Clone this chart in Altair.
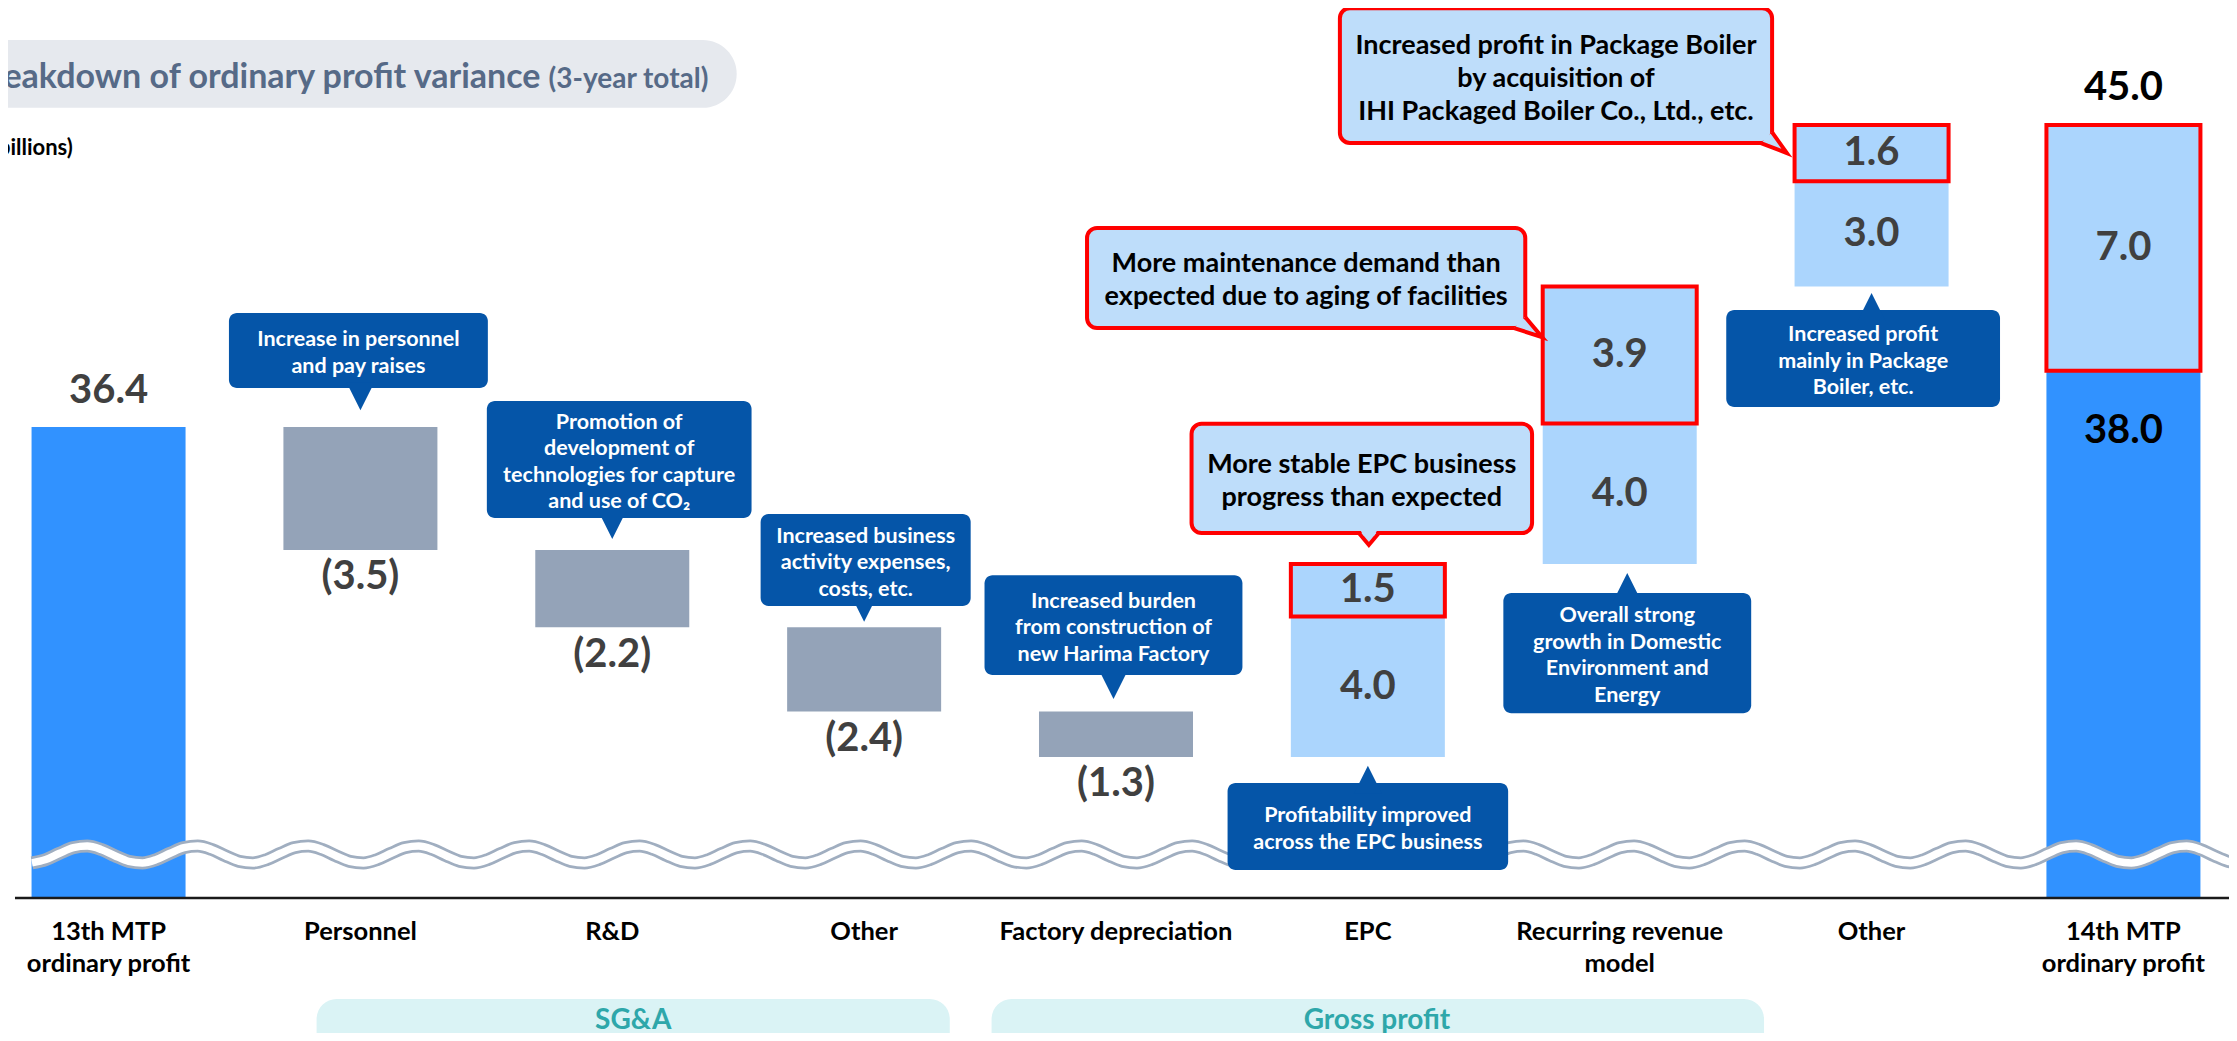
import math
import altair as alt
import pandas as pd

# ------------------------------------------------------------------ data
categories = ["13th MTP\nordinary profit", "Personnel", "R&D", "Other",
              "Factory depreciation", "EPC", "Recurring revenue\nmodel", "Other",
              "14th MTP\nordinary profit"]
start_total = 36.4
decreases = [3.5, 2.2, 2.4, 1.3]          # Personnel, R&D, Other, Factory depreciation
increase_base = [4.0, 4.0, 3.0]           # EPC, Recurring revenue model, Other
increase_extra = [1.5, 3.9, 1.6]          # red-framed upside
end_base = 38.0
end_extra = 7.0
end_total = 45.0
group_labels = ["SG&A", "Gross profit"]
title_main = "Breakdown of ordinary profit variance"
title_sub = "(3-year total)"
unit_label = "(¥ billions)"
blue_texts = [
    "Increase in personnel\nand pay raises",
    "Promotion of\ndevelopment of\ntechnologies for capture\nand use of CO₂",
    "Increased business\nactivity expenses,\ncosts, etc.",
    "Increased burden\nfrom construction of\nnew Harima Factory",
    "Profitability improved\nacross the EPC business",
    "Overall strong\ngrowth in Domestic\nEnvironment and\nEnergy",
    "Increased profit\nmainly in Package\nBoiler, etc.",
]
red_texts = [
    "More stable EPC business\nprogress than expected",
    "More maintenance demand than\nexpected due to aging of facilities",
    "Increased profit in Package Boiler\nby acquisition of\nIHI Packaged Boiler Co., Ltd., etc.",
]

# ------------------------------------------------------------------ layout (plot units)
XD = [-0.3794, 8.3993]
YD = [19.14, 48.334]
W, H = 2221, 1025
PX_PER_UNIT = H / (YD[1] - YD[0])
AXIS_BREAK = 22.985
FONT = "Lato"
BLUE_BAR = "#3192FF"
GRAY_BAR = "#94A3B8"
LIGHT_BAR = "#ABD5FD"
NOTE_BLUE = "#0555A8"
NOTE_LIGHT = "#BEDDFA"
RED = "#FF0000"
VAL = "#404040"
BLUE_FS, BLUE_LH = 21.5, 26.5
RED_FS, RED_LH = 27, 33

# box: x0, x1, ytop, ybottom, tip x, tip y, direction
blue_boxes = [
    (0.478, 1.506, 39.65, 37.51, 1.0, 36.88, "down"),
    (1.502, 2.553, 37.14, 33.81, 2.0, 33.21, "down"),
    (2.589, 3.423, 33.92, 31.30, 3.0, 30.85, "down"),
    (3.478, 4.502, 32.18, 29.34, 3.99, 28.65, "down"),
    (4.443, 5.557, 26.26, 23.78, 5.0, 26.75, "up"),
    (5.538, 6.522, 31.67, 28.25, 6.03, 32.24, "up"),
    (6.423, 7.510, 39.73, 36.97, 7.0, 40.22, "up"),
]
red_boxes = [
    (4.300, 5.652, 36.49, 33.38, 5.004, 33.04,
     "M -1 -1.2 L 0 0 L 1 -1.2",
     "M -0.55 -0.95 L 0.55 -0.95 L 0.85 -1.5 L -0.85 -1.5 Z"),
    (3.885, 5.625, 42.07, 39.22, 5.692, 38.96,
     "M -2.8 -0.9 L 0 0 L -1.7 -2.0",
     "M -2.0 -1.0 L -1.5 -0.9 L -1.6 -1.4 Z"),
    (4.889, 6.605, 48.33, 44.49, 6.664, 44.20,
     "M -2.6 -1.0 L 0 0 L -1.5 -2.1",
     "M -1.9 -1.0 L -1.3 -0.9 L -1.4 -1.5 Z"),
]


def X(f):
    return alt.X(f, type="quantitative", axis=None,
                 scale=alt.Scale(domain=XD, nice=False, zero=False))


def Y(f):
    return alt.Y(f, type="quantitative", axis=None,
                 scale=alt.Scale(domain=YD, nice=False, zero=False))


def first_line_y(center, text, lh):
    n = text.count("\n") + 1
    return center + (n - 1) / 2 * lh / PX_PER_UNIT


# ------------------------------------------------------------------ bars
seg = [(0, AXIS_BREAK, start_total, "total")]
labels = [(0, start_total + 1.02, f"{start_total:.1f}", VAL)]
level = start_total
for k, d in enumerate(decreases):
    seg.append((k + 1, level, level - d, "down"))
    level -= d
    labels.append((k + 1, level - 0.78, f"({d:.1f})", VAL))
for k, (b, e) in enumerate(zip(increase_base, increase_extra)):
    i = 5 + k
    seg.append((i, level, level + b, "up"))
    seg.append((i, level + b, level + b + e, "extra"))
    labels.append((i, level + b / 2, f"{b:.1f}", VAL))
    labels.append((i, level + b + e / 2, f"{e:.1f}", VAL))
    level += b + e
seg.append((8, AXIS_BREAK, end_base, "total"))
seg.append((8, end_base, end_base + end_extra, "extra"))
labels.append((8, end_base - 1.71, f"{end_base:.1f}", "#000000"))
labels.append((8, end_base + end_extra / 2, f"{end_extra:.1f}", VAL))
labels.append((8, end_total + 1.06, f"{end_total:.1f}", "#000000"))

bars = pd.DataFrame(seg, columns=["i", "y0", "y1", "kind"])
lab_df = pd.DataFrame(labels, columns=["i", "y", "text", "color"])


def bar_layer(kind, **style):
    return (alt.Chart(bars).transform_filter(alt.datum.kind == kind)
            .mark_bar(width=154, **style)
            .encode(x=X("i"), y=Y("y0"), y2=alt.Y2("y1")))


layers = [
    bar_layer("total", color=BLUE_BAR),
    bar_layer("down", color=GRAY_BAR),
    bar_layer("up", color=LIGHT_BAR),
    bar_layer("extra", color=LIGHT_BAR, stroke=RED, strokeWidth=4),
]

# ------------------------------------------------------------------ axis break wave
period = 0.4387
peak0 = -0.0949
wave_rows = []
n_steps = int((8.46 + 0.304) / (period / 8)) + 1
for s in range(n_steps + 1):
    xv = -0.304 + s * period / 8
    wave_rows.append((xv, 24.224 + 0.242 * math.cos(2 * math.pi * (xv - peak0) / period)))
wave = pd.DataFrame(wave_rows, columns=["x", "y"])
layers.append(alt.Chart(wave).mark_line(color="#A0AEC0", strokeWidth=13, strokeCap="butt",
                                        interpolate="monotone")
              .encode(x=X("x"), y=Y("y"), order="x:Q"))
layers.append(alt.Chart(wave).mark_line(color="#FFFFFF", strokeWidth=7.5, strokeCap="butt",
                                        interpolate="monotone")
              .encode(x=X("x"), y=Y("y"), order="x:Q"))

# baseline
base_df = pd.DataFrame({"x": [-0.3715], "x2": [8.45], "y": [AXIS_BREAK]})
layers.append(alt.Chart(base_df).mark_rule(color="#1A1A1A", strokeWidth=2.5)
              .encode(x=X("x"), x2=alt.X2("x2"), y=Y("y")))

# ------------------------------------------------------------------ value + category labels
layers.append(alt.Chart(lab_df).mark_text(font=FONT, fontSize=40, fontWeight="bold",
                                          baseline="middle", align="center")
              .encode(x=X("i"), y=Y("y"), text="text:N", color=alt.Color("color:N", scale=None)))

cat_df = pd.DataFrame({"i": list(range(len(categories))), "text": categories, "y": 22.36})
layers.append(alt.Chart(cat_df).mark_text(font=FONT, fontSize=25.5, fontWeight="bold", color="#000000",
                                          baseline="top", align="center", lineBreak="\n",
                                          lineHeight=32)
              .encode(x=X("i"), y=Y("y"), text="text:N"))

# ------------------------------------------------------------------ title + unit
pill = pd.DataFrame({"x0": [-1.5], "x1": [2.494], "y0": [47.42], "y1": [45.49]})
layers.append(alt.Chart(pill).mark_rect(color="#E6E9EE", cornerRadius=34)
              .encode(x=X("x0"), x2=alt.X2("x1"), y=Y("y0"), y2=alt.Y2("y1")))
layers.append(alt.Chart(pd.DataFrame({"x": [1.715], "y": [46.055], "t": [title_main]}))
              .mark_text(font=FONT, fontSize=34, fontWeight="bold", color="#566A87",
                         align="right", baseline="alphabetic")
              .encode(x=X("x"), y=Y("y"), text="t:N"))
layers.append(alt.Chart(pd.DataFrame({"x": [1.747], "y": [46.055], "t": [title_sub]}))
              .mark_text(font=FONT, fontSize=28, fontWeight="bold", color="#566A87",
                         align="left", baseline="alphabetic")
              .encode(x=X("x"), y=Y("y"), text="t:N"))
layers.append(alt.Chart(pd.DataFrame({"x": [-0.142], "y": [44.147], "t": [unit_label]}))
              .mark_text(font=FONT, fontSize=22, fontWeight="bold", color="#000000",
                         align="right", baseline="alphabetic")
              .encode(x=X("x"), y=Y("y"), text="t:N"))

# ------------------------------------------------------------------ bottom group pills
grp = pd.DataFrame({"x0": [0.826, 3.506], "x1": [3.340, 6.573], "y0": [20.108, 20.108],
                    "y1": [18.0, 18.0], "t": group_labels, "cx": [2.083, 5.036], "ty": [19.25, 19.25]})
layers.append(alt.Chart(grp).mark_rect(color="#DAF3F5", cornerRadius=20)
              .encode(x=X("x0"), x2=alt.X2("x1"), y=Y("y0"), y2=alt.Y2("y1")))
layers.append(alt.Chart(grp).mark_text(font=FONT, fontSize=28, fontWeight="bold", color="#2EA7AA",
                                       align="center", baseline="alphabetic")
              .encode(x=X("cx"), y=Y("ty"), text="t:N"))

# ------------------------------------------------------------------ blue callouts
bl = pd.DataFrame([(t,) + b for t, b in zip(blue_texts, blue_boxes)],
                  columns=["t", "x0", "x1", "y0", "y1", "tx", "ty", "dir"])
bl["cx"] = (bl.x0 + bl.x1) / 2
bl["cy"] = [first_line_y((a + b) / 2, t, BLUE_LH) for a, b, t in zip(bl.y0, bl.y1, bl.t)]
layers.append(alt.Chart(bl).mark_rect(color=NOTE_BLUE, cornerRadius=8)
              .encode(x=X("x0"), x2=alt.X2("x1"), y=Y("y0"), y2=alt.Y2("y1")))
layers.append(alt.Chart(bl).transform_filter(alt.datum.dir == "down")
              .mark_point(shape="M -1 -2 L 1 -2 L 0 0 Z", size=784, filled=True,
                          color=NOTE_BLUE, opacity=1, strokeWidth=0)
              .encode(x=X("tx"), y=Y("ty")))
layers.append(alt.Chart(bl).transform_filter(alt.datum.dir == "up")
              .mark_point(shape="M -1 2 L 1 2 L 0 0 Z", size=784, filled=True,
                          color=NOTE_BLUE, opacity=1, strokeWidth=0)
              .encode(x=X("tx"), y=Y("ty")))
layers.append(alt.Chart(bl).mark_text(font=FONT, fontSize=BLUE_FS, fontWeight="bold", color="#FFFFFF",
                                      align="center", baseline="middle", lineBreak="\n",
                                      lineHeight=BLUE_LH, dy=3)
              .encode(x=X("cx"), y=Y("cy"), text="t:N"))

# ------------------------------------------------------------------ red-framed callouts
rd = pd.DataFrame([(t,) + b for t, b in zip(red_texts, red_boxes)],
                  columns=["t", "x0", "x1", "y0", "y1", "tx", "ty", "tail", "patch"])
rd["cx"] = (rd.x0 + rd.x1) / 2
rd["cy"] = [first_line_y((a + b) / 2, t, RED_LH) for a, b, t in zip(rd.y0, rd.y1, rd.t)]
layers.append(alt.Chart(rd).mark_rect(fill=NOTE_LIGHT, stroke=RED, strokeWidth=4, cornerRadius=10)
              .encode(x=X("x0"), x2=alt.X2("x1"), y=Y("y0"), y2=alt.Y2("y1")))
layers.append(alt.Chart(rd).mark_point(size=400, filled=True, fill=NOTE_LIGHT, stroke=RED,
                                       strokeWidth=4, opacity=1, strokeJoin="miter")
              .encode(x=X("tx"), y=Y("ty"), shape=alt.Shape("tail:N", scale=None)))
layers.append(alt.Chart(rd).mark_point(size=400, filled=True, color=NOTE_LIGHT, opacity=1,
                                       strokeWidth=0)
              .encode(x=X("tx"), y=Y("ty"), shape=alt.Shape("patch:N", scale=None)))
layers.append(alt.Chart(rd).mark_text(font=FONT, fontSize=RED_FS, fontWeight="bold", color="#000000",
                                      align="center", baseline="middle", lineBreak="\n",
                                      lineHeight=RED_LH, dy=3)
              .encode(x=X("cx"), y=Y("cy"), text="t:N"))

chart = (alt.layer(*layers)
         .properties(width=W, height=H, padding=0, background="#FFFFFF",
                     autosize=alt.AutoSizeParams(type="none"))
         .configure_view(stroke=None))

chart.save("out.html", embed_options={"renderer": "svg", "actions": False})
